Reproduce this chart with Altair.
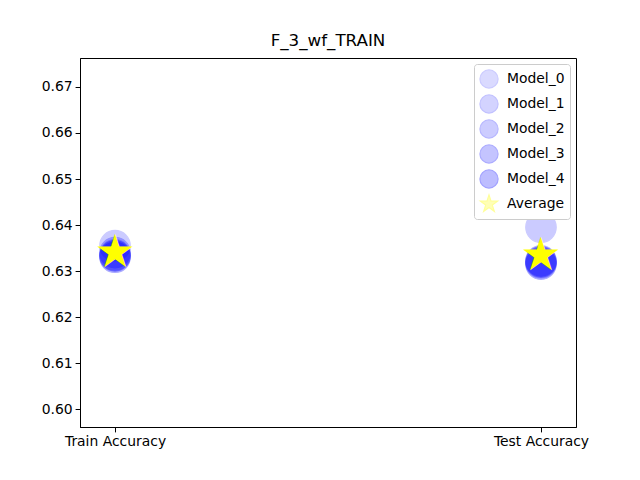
import altair as alt
import pandas as pd

metrics = ["Train Accuracy", "Test Accuracy"]
series = ["Model_0", "Model_1", "Model_2", "Model_3", "Model_4", "Average"]
train_vals = [0.6355, 0.6335, 0.6340, 0.6330, 0.6333, 0.6342]
test_vals = [0.6395, 0.6318, 0.6322, 0.6315, 0.6320, 0.6335]
colors = ["blue", "blue", "blue", "blue", "blue", "yellow"]
STAR = ("M0,-1L0.2245,-0.309L0.9511,-0.309L0.3633,0.118L0.5878,0.809L0,0.382"
        "L-0.5878,0.809L-0.3633,0.118L-0.9511,-0.309L-0.2245,-0.309Z")
shapes = ["circle", "circle", "circle", "circle", "circle", STAR]
alphas = [0.2, 0.4, 0.6, 0.8, 1.0, 1.0]
y_ticks = [0.60, 0.61, 0.62, 0.63, 0.64, 0.65, 0.66, 0.67]

idx_col, series_col, value_col = [], [], []
for j, vals in enumerate([train_vals, test_vals]):
    for i, s in enumerate(series):
        idx_col.append(j); series_col.append(s); value_col.append(vals[i])
df = pd.DataFrame({"idx": idx_col, "series": series_col, "value": value_col})

label_expr = " : ".join(
    f"datum.value == {j} ? '{m}'" for j, m in enumerate(metrics)
) + " : ''"

FONT = "DejaVu Sans"
leg = alt.Legend(title=None)

x_enc = alt.X("idx:Q", title=None,
              scale=alt.Scale(domain=[-0.0822, 1.0822], nice=False, zero=False),
              axis=alt.Axis(values=[0, 1], labelExpr=label_expr, labelAngle=0))
y_enc = alt.Y("value:Q", title=None,
              scale=alt.Scale(domain=[0.5961, 0.6763], nice=False, zero=False),
              axis=alt.Axis(values=y_ticks, format=".2f"))

base = alt.Chart(df)

circles = base.transform_filter(alt.datum.series != "Average").mark_point(
    filled=True, size=930, strokeWidth=1.2
).encode(
    x=x_enc, y=y_enc,
    fill=alt.Fill("series:N", scale=alt.Scale(domain=series, range=colors), legend=leg),
    stroke=alt.Stroke("series:N", scale=alt.Scale(domain=series, range=colors), legend=leg),
    shape=alt.Shape("series:N", scale=alt.Scale(domain=series, range=shapes), legend=leg),
    opacity=alt.Opacity("series:N", scale=alt.Scale(domain=series, range=alphas), legend=leg),
)

stars = base.transform_filter(alt.datum.series == "Average").mark_text(
    text="★", fontSize=46, font=FONT, color="yellow", baseline="middle", align="center", dy=1
).encode(x=x_enc, y=y_enc)

chart = alt.layer(circles, stars).properties(
    width=496, height=369,
    title=alt.Title("F_3_wf_TRAIN", font=FONT, fontSize=16.7, fontWeight="normal",
                    color="black", offset=8),
    autosize=alt.AutoSizeParams(type="none"),
    padding={"left": 80, "top": 58, "right": 64, "bottom": 53},
).configure_view(
    stroke="black", strokeWidth=1
).configure_axis(
    labelFont=FONT, labelFontSize=13.9, labelColor="black",
    domainColor="black", tickColor="black", tickSize=4.9, labelPadding=3,
    grid=False,
).configure_legend(
    orient="top-right", offset=6, padding=5,
    fillColor="white", strokeColor="#cccccc", cornerRadius=3,
    labelFont=FONT, labelFontSize=13.9, labelColor="black",
    symbolSize=330, symbolStrokeWidth=1.2, rowPadding=1, labelOffset=8,
)

chart.save("out.html", embed_options={"renderer": "svg", "actions": False})
